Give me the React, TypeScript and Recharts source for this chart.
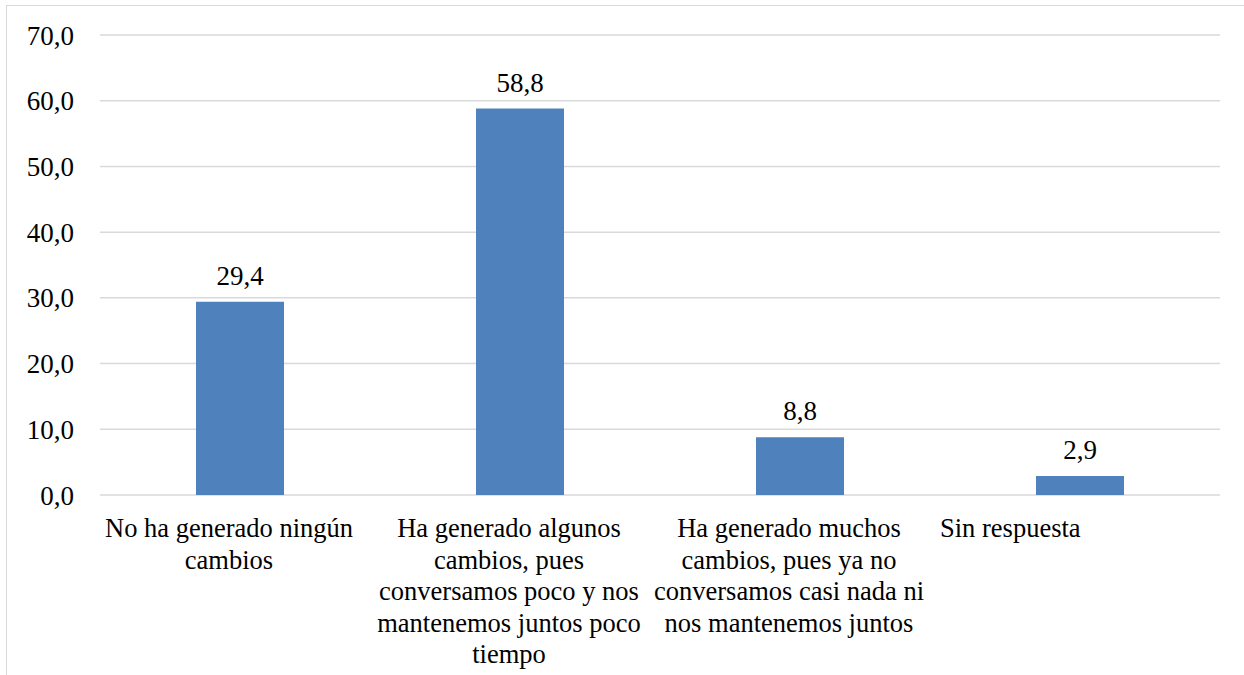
import { Bar, BarChart, CartesianGrid, LabelList, XAxis, YAxis } from 'recharts';

const categories = [
  'No ha generado ningún cambios',
  'Ha generado algunos cambios, pues conversamos poco y nos mantenemos juntos poco tiempo',
  'Ha generado muchos cambios, pues ya no conversamos casi nada ni nos mantenemos juntos',
  'Sin respuesta'
];

// wrapped lines as they appear under each bar
const categoryLines = [
  ['No ha generado ningún', 'cambios'],
  ['Ha generado algunos', 'cambios, pues', 'conversamos poco y nos', 'mantenemos juntos poco', 'tiempo'],
  ['Ha generado muchos', 'cambios, pues ya no', 'conversamos casi nada ni', 'nos mantenemos juntos'],
  ['Sin respuesta']
];

const percentages = [29.4, 58.8, 8.8, 2.9];

const yTicks = [0, 10, 20, 30, 40, 50, 60, 70];

const data = categories.map((name, i) => ({ name, value: percentages[i] }));

const FONT = 'Liberation Serif, Times New Roman, serif';
const fmt = (v: number) => v.toFixed(1).replace('.', ',');

function CategoryTick(props: any) {
  const { x, y, index } = props;
  const lines = categoryLines[index] || [];
  const isLast = index === categoryLines.length - 1;
  return (
    <g>
      {lines.map((line, i) => (
        <text
          key={i}
          x={isLast ? x - 140 : x - 11}
          y={y + 42 + i * 31.5}
          textAnchor={isLast ? 'start' : 'middle'}
          style={{ fontFamily: FONT, fontSize: 26.5 }}
          fill="#000"
        >
          {line}
        </text>
      ))}
    </g>
  );
}

export default function App() {
  return (
    <div style={{ position: 'absolute', left: 0, top: 0, width: 1244, height: 675, overflow: 'hidden', background: '#fff' }}>
      <div
        style={{
          position: 'absolute',
          left: 6,
          top: 5,
          width: 1300,
          height: 720,
          border: '1.5px solid #d9d9d9'
        }}
      />
      <BarChart
        width={1244}
        height={675}
        data={data}
        margin={{ top: 35, right: 24, left: 0, bottom: 0 }}
        barSize={88}
        style={{ position: 'absolute', left: 0, top: 0 }}
      >
        <CartesianGrid stroke="#d9d9d9" strokeWidth={1.5} vertical={false} />
        <XAxis
          dataKey="name"
          height={180}
          axisLine={false}
          tickLine={false}
          tickSize={0}
          tickMargin={0}
          interval={0}
          tick={<CategoryTick />}
        />
        <YAxis
          width={100}
          domain={[0, 70]}
          ticks={yTicks}
          axisLine={false}
          tickLine={false}
          tickSize={0}
          tickMargin={26}
          tickFormatter={fmt}
          tick={{ fill: '#000', fontSize: 27, style: { fontFamily: FONT } }}
        />
        <Bar dataKey="value" fill="#4f81bd" isAnimationActive={false}>
          <LabelList
            dataKey="value"
            position="top"
            offset={17}
            formatter={(v: any) => fmt(Number(v))}
            style={{ fill: '#000', fontSize: 27, fontFamily: FONT }}
          />
        </Bar>
      </BarChart>
    </div>
  );
}
